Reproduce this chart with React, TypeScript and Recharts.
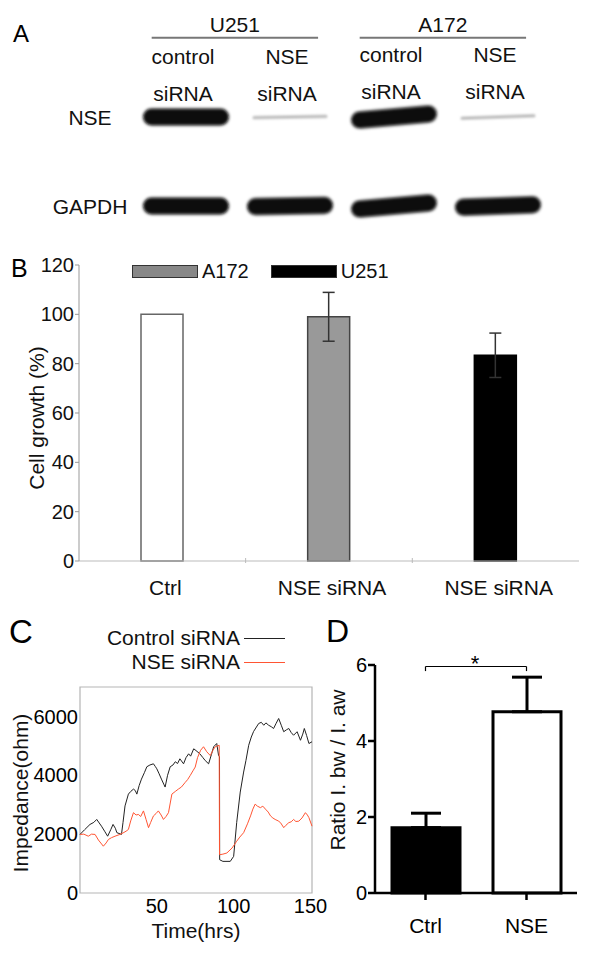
import React from 'react';
import {
  BarChart, Bar, Cell, ErrorBar, XAxis, YAxis, Legend, LineChart, Line,
  ScatterChart, Scatter, ReferenceLine, ReferenceArea,
} from 'recharts';

const FONT = "'Liberation Sans', Arial, Helvetica, sans-serif";

// ---- A: western blot
const laneIds = [1, 2, 3, 4];
const laneTopLabels = ['control', 'NSE', 'control', 'NSE'];
const laneBottomLabels = ['siRNA', 'siRNA', 'siRNA', 'siRNA'];
const blotGroups = [
  { name: 'U251', first: 1, last: 2 },
  { name: 'A172', first: 3, last: 4 },
];
const blotRows = ['GAPDH', 'NSE'];
const nseBandLevel = [1, 0.15, 1, 0.15];
const gapdhBandLevel = [1, 1, 1, 1];
const laneTilt = [0, -1, -5, -2];

// ---- B: cell growth
const growthKeys = ['ctrl', 'a172', 'u251'];
const growthLabels = ['Ctrl', 'NSE siRNA', 'NSE siRNA'];
const growthValues = [100, 99, 83.4];
const growthErrors = [0, 9.9, 9];
const growthFill = ['#ffffff', '#999999', '#000000'];
const growthStroke = ['#666666', '#444444', '#000000'];
const growthLegendNames = ['A172', 'U251'];
const growthLegendColors = ['#888888', '#000000'];

// ---- C: impedance over time [hours, ohm]
const controlImpedance = [
  [0, 1990], [3, 2150], [6.5, 2330], [9, 2400], [10.9, 2500], [12.5, 2380], [14, 2270], [16, 2100],
  [18, 1930], [20, 2150], [21.5, 2330], [23, 2200], [24, 2050], [27, 1990], [28, 2400], [29.3, 2960],
  [31.5, 3360], [33, 3450], [34.8, 3530], [36, 3480], [37, 3360], [38.5, 3650], [40, 3870], [42, 4100],
  [43.5, 4290], [45.5, 4350], [47.8, 4390], [49, 4300], [50, 4220], [51.5, 4050], [53, 3870], [54.5, 3700],
  [55.4, 3600], [57, 4000], [58.7, 4290], [60.5, 4350], [62, 4460], [63.5, 4400], [65, 4560], [67.4, 4390],
  [69, 4600], [70.7, 4730], [72, 4650], [74, 4900], [75.5, 4840], [78, 4730], [80, 4600], [81.5, 4500],
  [83.7, 4390], [85.5, 4700], [87, 4970], [89, 5080], [90.2, 4670], [90.8, 4630], [90.9, 1130], [93, 1075],
  [97.8, 1075], [100, 1245], [102, 2400], [104.3, 3430], [106.5, 4110], [108, 4500], [109.8, 5020],
  [111.5, 5300], [113, 5490], [116.3, 5760], [118, 5800], [119.6, 5700], [121, 5780], [122.8, 5700],
  [124.5, 5650], [126, 5590], [127.5, 5750], [129.3, 5930], [131, 5700], [132.6, 5480], [134.5, 5550],
  [135.9, 5590], [137.5, 5450], [139, 5360], [141.3, 5480], [143.5, 5190], [145, 5400], [146, 5590],
  [147.5, 5350], [149, 5080], [151, 5140],
];
const nseImpedance = [
  [0, 1990], [2.5, 2000], [5.4, 1930], [7.5, 2000], [9.8, 1990], [12, 1800], [15.2, 1590], [17, 1700],
  [18.5, 1820], [20.5, 1880], [22.8, 1930], [26, 1990], [28, 2040], [30, 2100], [31.5, 2160], [33, 2450],
  [34.8, 2730], [36.5, 2650], [38, 2670], [39.5, 2600], [41.3, 2790], [43, 2500], [44.6, 2220], [46, 2400],
  [47.8, 2620], [49.5, 2700], [51, 2790], [52.8, 2650], [54.3, 2500], [56, 2600], [57.6, 2730], [59.8, 3360],
  [62, 3450], [64, 3530], [66, 3600], [68.5, 3760], [70, 3850], [71.7, 3990], [73.5, 4150], [75, 4280],
  [76.5, 4600], [78.5, 4850], [80.4, 4970], [82.5, 4800], [84.8, 4670], [86.5, 4850], [88, 4970],
  [90.6, 5020], [90.8, 1300], [93, 1320], [95.6, 1360], [99, 1530], [102, 1760], [104, 1900], [106.5, 2050],
  [109, 2350], [111, 2620], [112.5, 2850], [114, 3020], [115.5, 2950], [117.4, 2900], [119, 2950],
  [120.7, 2850], [122.5, 2750], [124, 2620], [125.5, 2550], [127, 2500], [129, 2450], [130.5, 2390],
  [132.6, 2220], [134, 2300], [135.9, 2390], [137.5, 2420], [139, 2500], [140.5, 2430], [142.4, 2440],
  [144.5, 2550], [146.7, 2730], [148, 2650], [149, 2560], [151, 2270],
];
const impedanceTicksX = [50, 100, 150];
const impedanceTicksY = [0, 2000, 4000, 6000];

// ---- D: ratio
const ratioCategories = ['Ctrl', 'NSE'];
const ratioValues = [1.72, 4.77];
const ratioErrUp = [0.38, 0.91];
const ratioFill = ['#000000', '#ffffff'];

const textStyle = { fontFamily: FONT, fill: '#111' };

// ---------- A
const LaneTick = (props: any) => {
  const { x, payload } = props;
  const i = payload.value - 1;
  const lift = i >= 2 ? 2 : 0;
  return (
    <g>
      <text x={x - 3} y={64 - lift} textAnchor="middle" fontSize={21} {...textStyle}>{laneTopLabels[i]}</text>
      <text x={x - 3} y={101 - lift} textAnchor="middle" fontSize={21} {...textStyle}>{laneBottomLabels[i]}</text>
    </g>
  );
};

const RowTick = (props: any) => {
  const { y, payload } = props;
  return (
    <text x={90} y={y} dy="0.36em" textAnchor="middle" fontSize={21} {...textStyle}>
      {blotRows[payload.value]}
    </text>
  );
};

const BandShape = (props: any) => {
  const { cx, cy, payload } = props;
  const strong = payload.level > 0.5;
  const w = strong ? 86 : 75;
  const h = strong ? 17 : 3;
  const id = `band-${payload.lane}-${payload.row}`;
  return (
    <g transform={`rotate(${laneTilt[payload.lane - 1]} ${cx} ${cy})`}>
      <defs>
        <filter id={id} x="-20%" y="-150%" width="140%" height="400%">
          <feGaussianBlur stdDeviation={strong ? 1.6 : 0.8} />
        </filter>
      </defs>
      <rect x={cx - w / 2} y={cy - h / 2} width={w} height={h} rx={h / 2}
        fill={strong ? '#080808' : '#b8b8b8'} filter={`url(#${id})`} />
    </g>
  );
};

const BlotPanel = () => {
  const bands = [
    ...nseBandLevel.map((level, i) => ({ lane: laneIds[i], row: 1, level })),
    ...gapdhBandLevel.map((level, i) => ({ lane: laneIds[i], row: 0, level })),
  ];
  return (
    <ScatterChart width={600} height={240} margin={{ top: 87, right: 50, bottom: 34, left: 74 }}>
      <XAxis type="number" dataKey="lane" domain={[0.5, 4.5]} ticks={laneIds} orientation="top"
        height={30} axisLine={false} tickLine={false} tick={LaneTick} interval={0} />
      <YAxis type="number" dataKey="row" domain={[0, 1]} ticks={[0, 1]} width={60}
        axisLine={false} tickLine={false} tick={RowTick} />
      {blotGroups.map((g) => (
        <ReferenceLine key={g.name} ifOverflow="visible" stroke="#777" strokeWidth={2}
          segment={[{ x: g.first - 0.33, y: 1.89 }, { x: g.last + 0.27, y: 1.89 }]}
          label={{ value: g.name, position: 'top', offset: 6, fill: '#111', fontSize: 21, fontFamily: FONT }} />
      ))}
      <Scatter data={bands} shape={BandShape} isAnimationActive={false} />
    </ScatterChart>
  );
};

// ---------- B
const GrowthTick = (props: any) => {
  const { x, y, index } = props;
  return (
    <g>
      <text x={x + 3} y={y + 26} dy="0.36em" textAnchor="middle" fontSize={21} {...textStyle}>
        {growthLabels[index]}
      </text>
      {index < growthKeys.length - 1 && (
        <line x1={x + 83.3} x2={x + 83.3} y1={y - 3} y2={y + 2} stroke="#bbb" />
      )}
    </g>
  );
};

const GrowthLegend = () => (
  <div style={{ display: 'flex', alignItems: 'center', height: 27, paddingLeft: 132, fontFamily: FONT, fontSize: 20, color: '#111' }}>
    {growthLegendNames.map((name, i) => (
      <div key={name} style={{ display: 'flex', alignItems: 'center', marginRight: 22 }}>
        <span style={{ display: 'inline-block', width: 64, height: 11, background: growthLegendColors[i], border: '1px solid #333' }} />
        <span style={{ marginLeft: 4 }}>{name}</span>
      </div>
    ))}
  </div>
);

const GrowthPanel = () => {
  const data = growthKeys.map((key, i) => ({ key, value: growthValues[i], err: growthErrors[i] }));
  return (
    <BarChart width={600} height={360} data={data} barSize={42}
      margin={{ top: 25, right: 21, bottom: 4, left: 19 }}>
      <XAxis dataKey="key" height={35} interval={0} axisLine={{ stroke: '#bbb' }} tickLine={false}
        tickSize={0} tickMargin={0} tick={GrowthTick} />
      <YAxis domain={[0, 120]} ticks={[0, 20, 40, 60, 80, 100, 120]} width={60}
        axisLine={{ stroke: '#999' }} tickLine={{ stroke: '#999' }} tickSize={4} tickMargin={1}
        tick={{ fontSize: 20, fill: '#111', fontFamily: FONT }}
        label={() => (
          <text x={36.5} y={178} transform="rotate(-90 36.5 178)" textAnchor="middle"
            dominantBaseline="central" fontSize={21} {...textStyle}>Cell growth (%)</text>
        )} />
      <Legend content={GrowthLegend} layout="horizontal" verticalAlign="middle" align="center"
        wrapperStyle={{ top: 18, left: 0, width: 600 }} />
      <Bar dataKey="value" isAnimationActive={false} strokeWidth={1.5}>
        {data.map((d, i) => (
          <Cell key={d.key} fill={growthFill[i]} stroke={growthStroke[i]} />
        ))}
        <ErrorBar dataKey="err" width={6} stroke="#333" strokeWidth={1.5} direction="y" />
      </Bar>
    </BarChart>
  );
};

// ---------- C
const ImpedanceLegend = (props: any) => {
  const { payload = [] } = props;
  return (
    <div style={{ fontFamily: FONT, fontSize: 21, color: '#111' }}>
      {payload.map((entry: any) => (
        <div key={entry.value} style={{ display: 'flex', justifyContent: 'flex-end', alignItems: 'center', height: 24, width: 285 }}>
          <span>{entry.value}</span>
          <span style={{ display: 'inline-block', width: 41, marginLeft: 4, borderTop: `1.5px solid ${entry.color}` }} />
        </div>
      ))}
    </div>
  );
};

const ImpedancePanel = () => {
  const ctrl = controlImpedance.map(([t, v]) => ({ t, v }));
  const nse = nseImpedance.map(([t, v]) => ({ t, v }));
  return (
    <LineChart width={330} height={360} margin={{ top: 87, right: 18, bottom: 22, left: 10 }}>
      <XAxis type="number" dataKey="t" domain={[0, 151]} ticks={impedanceTicksX} height={45}
        axisLine={false} tickLine={false} tickSize={0} tickMargin={6}
        tick={{ fontSize: 20, fill: '#000', fontFamily: FONT }}
        label={(p: any) => (
          <text x={p.viewBox.x + p.viewBox.width / 2} y={p.viewBox.y + 45} textAnchor="middle"
            fontSize={21} {...textStyle}>Time(hrs)</text>
        )} />
      <YAxis type="number" domain={[0, 7000]} ticks={impedanceTicksY} width={70}
        axisLine={false} tickLine={false} tickSize={0} tickMargin={2}
        tick={{ fontSize: 20, fill: '#000', fontFamily: FONT }}
        label={(p: any) => {
          const x = p.viewBox.x + 10;
          const y = p.viewBox.y + p.viewBox.height / 2 + 3;
          return (
            <text x={x} y={y} transform={`rotate(-90 ${x} ${y})`} textAnchor="middle"
              dominantBaseline="central" fontSize={21} {...textStyle}>Impedance(ohm)</text>
          );
        }} />
      <ReferenceArea x1={0} x2={151} y1={0} y2={7000} fill="none" stroke="#b5b5b5"
        strokeWidth={1.2} ifOverflow="visible" />
      <Legend content={ImpedanceLegend} layout="horizontal" verticalAlign="middle" align="center"
        wrapperStyle={{ top: 26, left: 0, width: 285 }} />
      <Line data={ctrl} dataKey="v" name="Control siRNA" type="linear" stroke="#222" strokeWidth={1}
        dot={false} isAnimationActive={false} />
      <Line data={nse} dataKey="v" name="NSE siRNA" type="linear" stroke="#ff5533" strokeWidth={1}
        dot={false} isAnimationActive={false} />
    </LineChart>
  );
};

// ---------- D
const RatioPanel = () => {
  const data = ratioCategories.map((name, i) => ({ name, value: ratioValues[i], err: [0, ratioErrUp[i]] }));
  const axisStroke = { stroke: '#000', strokeWidth: 2.5 };
  const bracketY = 5.96;
  const bracketFoot = 5.84;
  return (
    <BarChart width={280} height={360} data={data} barSize={68}
      margin={{ top: 65, right: 23, bottom: 27, left: 10 }}>
      <XAxis dataKey="name" height={40} axisLine={axisStroke} tickLine={axisStroke} tickSize={7}
        tickMargin={18} tick={{ fontSize: 21, fill: '#000', fontFamily: FONT }} />
      <YAxis domain={[0, 6]} ticks={[0, 2, 4, 6]} width={45} axisLine={axisStroke} tickLine={axisStroke}
        tickSize={7} tickMargin={1} tick={{ fontSize: 20, fill: '#000', fontFamily: FONT }}
        label={(p: any) => {
          const x = p.viewBox.x + 7;
          const y = p.viewBox.y + p.viewBox.height / 2 - 9;
          return (
            <text x={x} y={y} transform={`rotate(-90 ${x} ${y})`} textAnchor="middle"
              dominantBaseline="central" fontSize={21} {...textStyle}>Ratio I. bw / I. aw</text>
          );
        }} />
      <Bar dataKey="value" stroke="#000" strokeWidth={3} isAnimationActive={false}>
        {data.map((d, i) => (
          <Cell key={d.name} fill={ratioFill[i]} />
        ))}
        <ErrorBar dataKey="err" width={15} stroke="#000" strokeWidth={3} direction="y" />
      </Bar>
      <ReferenceLine segment={[{ x: 'Ctrl', y: bracketY }, { x: 'NSE', y: bracketY }]} stroke="#000"
        strokeWidth={1.2} ifOverflow="visible"
        label={(p: any) => (
          <text x={p.viewBox.x + p.viewBox.width / 2 - 1} y={p.viewBox.y + 4} textAnchor="middle"
            fontSize={22} fontFamily={FONT} fill="#000">*</text>
        )} />
      <ReferenceLine segment={[{ x: 'Ctrl', y: bracketY }, { x: 'Ctrl', y: bracketFoot }]} stroke="#000"
        strokeWidth={1.2} ifOverflow="visible" />
      <ReferenceLine segment={[{ x: 'NSE', y: bracketY }, { x: 'NSE', y: bracketFoot }]} stroke="#000"
        strokeWidth={1.2} ifOverflow="visible" />
    </BarChart>
  );
};

const panelLetters = [
  { t: 'A', x: 13, y: 42, s: 24 },
  { t: 'B', x: 11, y: 277, s: 25 },
  { t: 'C', x: 9, y: 643, s: 33 },
  { t: 'D', x: 326, y: 642, s: 32 },
];

export default function App() {
  return (
    <div style={{ position: 'relative', margin: -8, width: 600, height: 960, background: '#fff', overflow: 'hidden' }}>
      <div style={{ position: 'absolute', left: 0, top: 0 }}><BlotPanel /></div>
      <div style={{ position: 'absolute', left: 0, top: 240 }}><GrowthPanel /></div>
      <div style={{ position: 'absolute', left: 0, top: 600 }}><ImpedancePanel /></div>
      <div style={{ position: 'absolute', left: 320, top: 600 }}><RatioPanel /></div>
      <svg width={600} height={960} style={{ position: 'absolute', left: 0, top: 0, pointerEvents: 'none' }}>
        {panelLetters.map((l) => (
          <text key={l.t} x={l.x} y={l.y} fontSize={l.s} fontFamily={FONT} fill="#000">{l.t}</text>
        ))}
      </svg>
    </div>
  );
}
